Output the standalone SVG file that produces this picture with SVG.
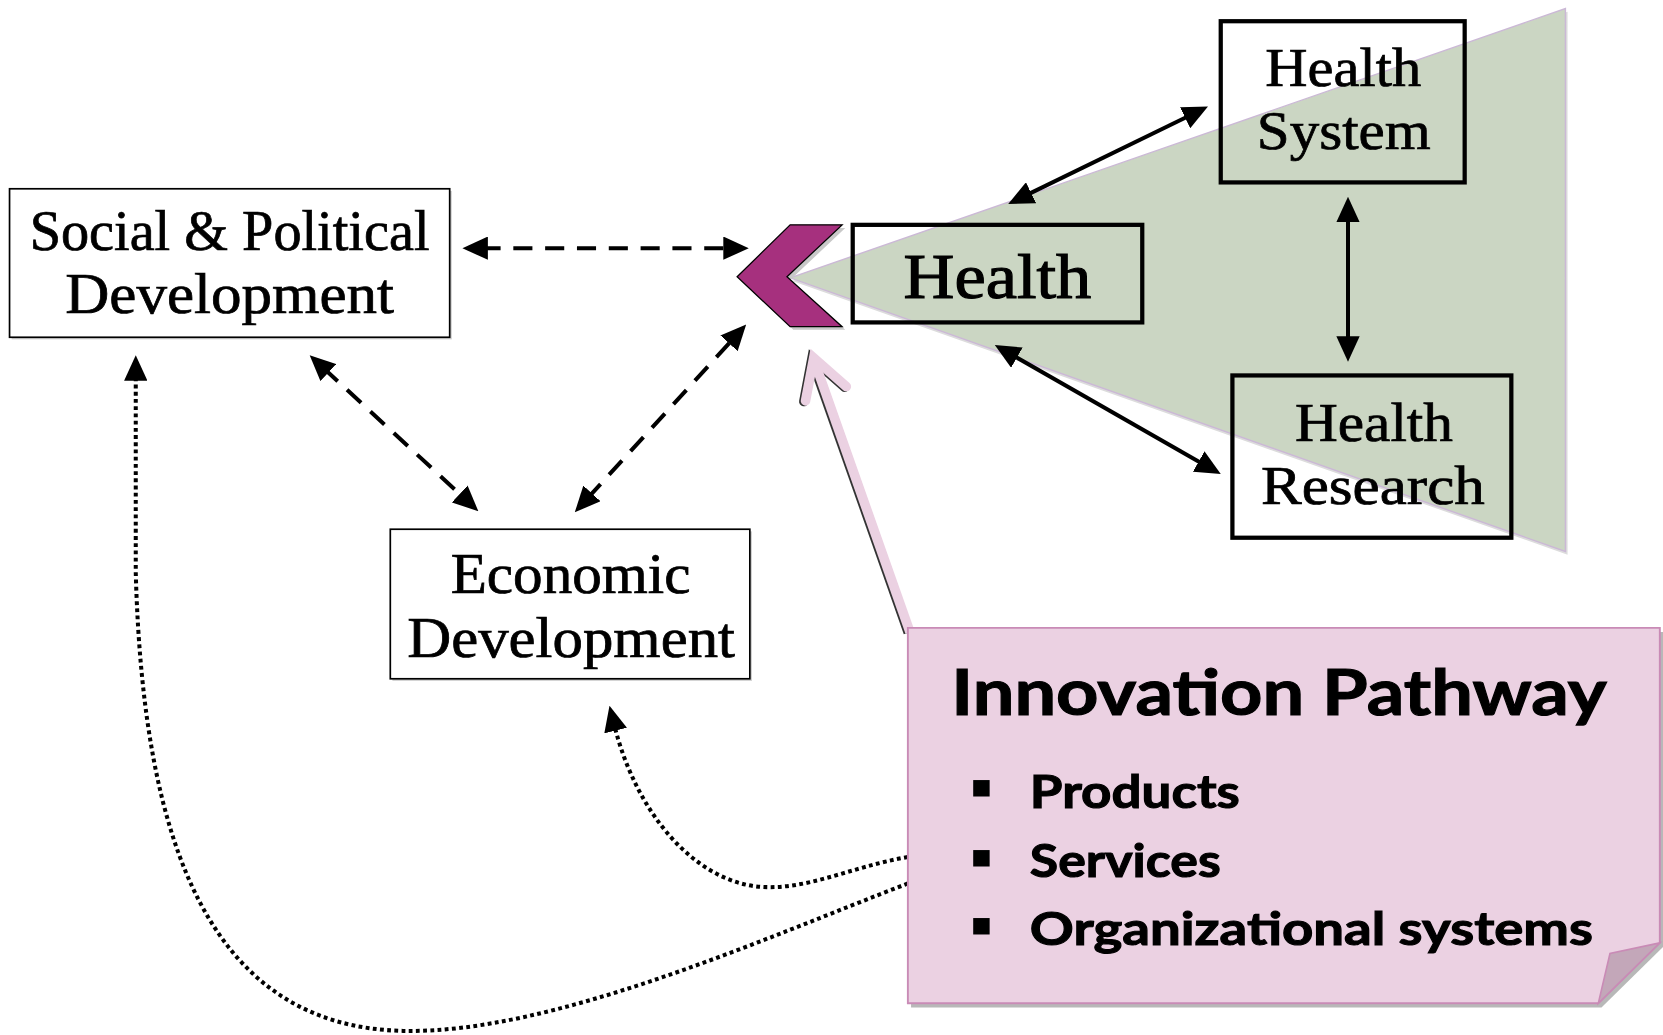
<svg xmlns="http://www.w3.org/2000/svg" width="1663" height="1035" viewBox="0 0 1663 1035">
<defs>
<marker id="ah" markerUnits="userSpaceOnUse" markerWidth="24" markerHeight="22" refX="6" refY="11" orient="auto-start-reverse" viewBox="0 0 24 22"><path d="M0,0 L24,11 L0,22 z" fill="#000"/></marker>
</defs>
<style>
.serif{font-family:"Liberation Serif","Times New Roman",serif;fill:#000;stroke:#000;stroke-width:0.7}
.sans{font-family:Lato,"Open Sans","Liberation Sans",sans-serif;font-weight:bold;fill:#000;stroke:#000;stroke-width:1}
.dash{fill:none;stroke:#000;stroke-width:3.8;stroke-dasharray:18 12}
.dot{fill:none;stroke:#000;stroke-width:3.8;stroke-dasharray:3.6 3.2}
.solid{fill:none;stroke:#000;stroke-width:3.8}
.box{fill:#fff;stroke:#000;stroke-width:1.6}
.hbox{fill:none;stroke:#000;stroke-width:4}
</style>
<rect width="1663" height="1035" fill="#fff"/>
<g transform="scale(1.06059)">
  <g id="cone">
    <polygon points="747,265 1478,11 1478,523" fill="#dcdcdc"/>
    <polygon points="745,262 1476,8 1476,520" fill="#cbd6c3" stroke="#cbb8d6" stroke-width="1.3"/>
  </g>
  <g id="chevron">
    <polygon points="698,264 748,215 797,215 745,264 797,311 748,311" fill="#c8c8c8"/>
    <polygon points="695,261 745,212 794,212 742,261 794,308 745,308" fill="#a6307e" stroke="#000" stroke-width="1.2"/>
  </g>
  <g id="social">
    <rect x="11" y="180" width="415" height="140" fill="#d0d0d0"/>
    <rect x="9" y="178" width="415" height="140" class="box"/>
    <text class="serif" font-size="53" x="28" y="236" textLength="377" lengthAdjust="spacingAndGlyphs">Social &amp; Political</text>
    <text class="serif" font-size="53" x="61.5" y="295" textLength="310" lengthAdjust="spacingAndGlyphs">Development</text>
  </g>
  <g id="economic">
    <rect x="370" y="501" width="339" height="141" fill="#d0d0d0"/>
    <rect x="368" y="499" width="339" height="141" class="box"/>
    <text class="serif" font-size="53" x="425" y="559" textLength="226" lengthAdjust="spacingAndGlyphs">Economic</text>
    <text class="serif" font-size="53" x="384" y="619" textLength="309" lengthAdjust="spacingAndGlyphs">Development</text>
  </g>
  <g id="health">
    <rect x="804" y="212" width="273" height="92" class="hbox"/>
    <text class="serif" font-size="60" x="852" y="281" textLength="177" lengthAdjust="spacingAndGlyphs" style="stroke-width:1.1">Health</text>
  </g>
  <g id="health-system">
    <rect x="1151" y="20" width="230" height="152" class="hbox"/>
    <text class="serif" font-size="51" x="1193" y="81" textLength="147" lengthAdjust="spacingAndGlyphs">Health</text>
    <text class="serif" font-size="51" x="1185" y="140.5" textLength="164" lengthAdjust="spacingAndGlyphs">System</text>
  </g>
  <g id="health-research">
    <rect x="1162" y="354" width="263" height="153" class="hbox"/>
    <text class="serif" font-size="51" x="1221" y="415.6" textLength="149" lengthAdjust="spacingAndGlyphs">Health</text>
    <text class="serif" font-size="51" x="1189" y="475" textLength="211" lengthAdjust="spacingAndGlyphs">Research</text>
  </g>
  <g id="connectors">
    <line x1="454" y1="234" x2="688" y2="234" class="dash" marker-start="url(#ah)" marker-end="url(#ah)"/>
    <line x1="305.2" y1="347.2" x2="437.8" y2="469.8" class="dash" marker-start="url(#ah)" marker-end="url(#ah)"/>
    <line x1="554.1" y1="469.7" x2="691.4" y2="319.3" class="dash" marker-start="url(#ah)" marker-end="url(#ah)"/>
    <line x1="966.8" y1="184.4" x2="1122.8" y2="108.4" class="solid" marker-start="url(#ah)" marker-end="url(#ah)"/>
    <line x1="1271" y1="203.5" x2="1271" y2="323" class="solid" marker-start="url(#ah)" marker-end="url(#ah)"/>
    <line x1="953.6" y1="334.2" x2="1135.4" y2="438.1" class="solid" marker-start="url(#ah)" marker-end="url(#ah)"/>
    <path d="M856,808 C800,818 760,840 715,836 C655,830 600,768 579,683" class="dot" marker-end="url(#ah)"/>
    <path d="M856,833 C720,885 520,975 380,972 C200,968 135,800 128,540 L128,353" class="dot" marker-end="url(#ah)"/>
    <g id="innovation-arrow" fill="none" stroke-linejoin="miter" stroke-linecap="round">
      <g transform="translate(-1.6,0.6)" stroke="#333">
        <line x1="858" y1="596" x2="767" y2="338" stroke-width="9" stroke-linecap="butt"/>
        <polyline points="759.5,378 767.2,337.4 798,364.5" stroke-width="9"/>
      </g>
      <line x1="858" y1="596" x2="767" y2="338" stroke="#ebd1e2" stroke-width="9" stroke-linecap="butt"/>
      <polyline points="759.5,378 767.2,337.4 798,364.5" stroke="#ebd1e2" stroke-width="9"/>
    </g>
  </g>
  <g id="innovation">
    <path d="M859,596 L1568,596 L1568,893 L1510,950 L859,950 Z" fill="#b8b8b8"/>
    <path d="M856,592 L1565,592 L1565,889 L1507,946 L856,946 Z" fill="#ebd1e2" stroke="#c98bb6" stroke-width="1.8"/>
    <polygon points="1565,889 1518,899 1507,946" fill="#c3a7b9" stroke="#c98bb6" stroke-width="1.5"/>
    <text class="sans" font-size="59" x="897" y="674" textLength="618" lengthAdjust="spacingAndGlyphs">Innovation Pathway</text>
    <rect x="917.6" y="735.5" width="15.5" height="15.5" fill="#000"/>
    <rect x="917.6" y="801.5" width="15.5" height="15.5" fill="#000"/>
    <rect x="917.6" y="865.6" width="15.5" height="15.5" fill="#000"/>
    <text class="sans" font-size="43" x="971" y="762" textLength="198" lengthAdjust="spacingAndGlyphs">Products</text>
    <text class="sans" font-size="43" x="971" y="826.6" textLength="180" lengthAdjust="spacingAndGlyphs">Services</text>
    <text class="sans" font-size="43" x="971" y="891" textLength="531" lengthAdjust="spacingAndGlyphs">Organizational systems</text>
  </g>
</g>
</svg>
